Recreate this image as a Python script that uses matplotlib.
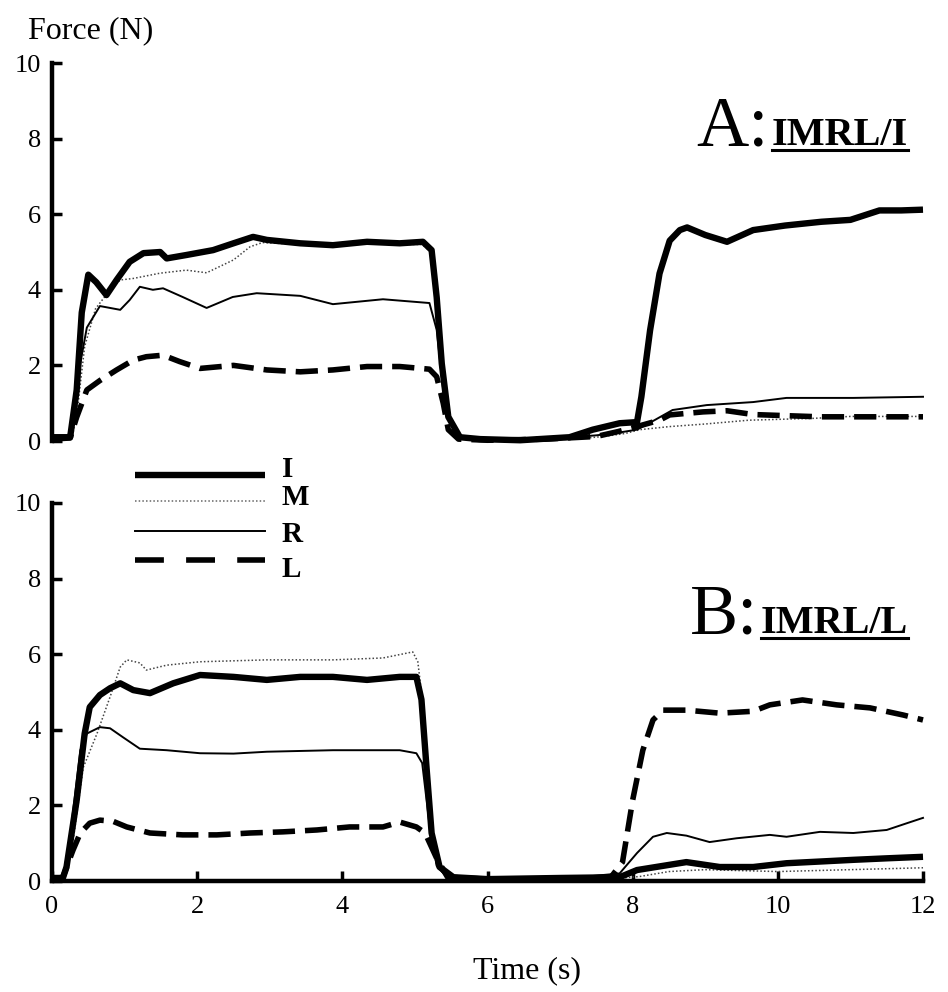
import matplotlib
matplotlib.use("Agg")
import matplotlib.pyplot as plt
from matplotlib.lines import Line2D

plt.rcParams['font.family'] = ['Liberation Serif', 'DejaVu Serif']

FIG_W, FIG_H = 948, 992

# finger names
fingers = ['I', 'M', 'R', 'L']

# ---- panel A: IMRL/I ----
a_i_t = [0, 0.25, 0.34, 0.41, 0.5, 0.61, 0.75, 0.89, 1.07, 1.26, 1.49, 1.58, 1.85, 2.22, 2.5, 2.77,
         2.96, 3.42, 3.87, 4.34, 4.79, 5.11, 5.23, 5.3, 5.37, 5.46, 5.62, 5.9, 6.45, 7.13, 7.45, 7.82,
         8.06, 8.12, 8.24, 8.37, 8.51, 8.65, 8.75, 9.0, 9.3, 9.66, 10.1, 10.6, 11.0, 11.4, 11.7, 12]
a_i_f = [0.1, 0.1, 1.35, 3.4, 4.4, 4.2, 3.86, 4.26, 4.74, 4.97, 5.0, 4.83, 4.92, 5.05, 5.23, 5.4,
         5.32, 5.23, 5.18, 5.27, 5.23, 5.27, 5.05, 3.8, 2.05, 0.64, 0.1, 0.05, 0.02, 0.1, 0.3, 0.47,
         0.5, 1.17, 2.93, 4.43, 5.3, 5.58, 5.65, 5.45, 5.27, 5.58, 5.7, 5.8, 5.85, 6.1, 6.1, 6.12]

a_m_t = [0, 0.28, 0.36, 0.45, 0.6, 0.8, 0.94, 1.12, 1.49, 1.85, 2.13, 2.5, 2.73, 2.9, 3.42, 3.87,
         4.34, 4.79, 5.1, 5.22, 5.3, 5.38, 5.47, 5.62, 5.9, 6.5, 7.2, 7.6, 7.9, 8.1, 8.5, 9.0, 9.6,
         10.5, 11.0, 12]
a_m_f = [0.05, 0.1, 1.0, 2.5, 3.5, 4.0, 4.26, 4.3, 4.44, 4.52, 4.45, 4.79, 5.14, 5.25, 5.2, 5.15,
         5.22, 5.2, 5.2, 5.0, 3.6, 1.9, 0.55, 0.08, 0.03, 0.02, 0.05, 0.12, 0.2, 0.3, 0.38, 0.45, 0.55,
         0.6, 0.65, 0.65]

a_r_t = [0, 0.22, 0.29, 0.39, 0.48, 0.66, 0.94, 1.07, 1.21, 1.39, 1.53, 1.8, 2.13, 2.49, 2.82, 3.42,
         3.87, 4.56, 5.2, 5.3, 5.39, 5.53, 5.7, 6.3, 7.0, 7.5, 7.8, 8.06, 8.3, 8.55, 9.02, 9.66, 10.12,
         11.04, 12]
a_r_f = [0.08, 0.1, 0.64, 2.06, 3.0, 3.57, 3.47, 3.73, 4.08, 4.0, 4.04, 3.81, 3.52, 3.81, 3.91, 3.84,
         3.62, 3.75, 3.65, 2.94, 1.35, 0.3, 0.06, 0.03, 0.08, 0.15, 0.22, 0.3, 0.55, 0.82, 0.95, 1.03, 1.14,
         1.14, 1.17]

a_l_t = [0, 0.25, 0.34, 0.48, 0.66, 0.89, 1.12, 1.3, 1.53, 1.76, 2.04, 2.5, 2.96, 3.42, 3.87, 4.34,
         4.79, 5.2, 5.3, 5.39, 5.46, 5.6, 6.0, 6.8, 7.5, 7.8, 8.0, 8.37, 8.51, 8.97, 9.3, 9.66, 10.58, 12]
a_l_f = [0.05, 0.08, 0.63, 1.35, 1.6, 1.88, 2.14, 2.23, 2.27, 2.1, 1.92, 2.0, 1.88, 1.83, 1.88, 1.97,
         1.97, 1.9, 1.7, 1.0, 0.3, 0.05, 0.02, 0.05, 0.12, 0.25, 0.35, 0.55, 0.69, 0.77, 0.8, 0.7, 0.64, 0.64]

# ---- panel B: IMRL/L ----
b_i_t = [0, 0.15, 0.2, 0.34, 0.45, 0.52, 0.66, 0.8, 0.94, 1.12, 1.35, 1.67, 2.04, 2.5, 2.96, 3.42,
         3.87, 4.34, 4.79, 5.02, 5.09, 5.16, 5.23, 5.34, 5.53, 6.0, 7.0, 7.82, 8.06, 8.74, 9.2, 9.66,
         10.12, 11.04, 11.5, 12]
b_i_f = [0.08, 0.08, 0.37, 2.14, 3.9, 4.6, 4.92, 5.1, 5.23, 5.05, 4.97, 5.23, 5.45, 5.4, 5.32, 5.4,
         5.4, 5.32, 5.4, 5.4, 4.8, 3.0, 1.27, 0.37, 0.1, 0.05, 0.08, 0.1, 0.29, 0.5, 0.37, 0.37,
         0.47, 0.56, 0.6, 0.64]

b_m_t = [0, 0.18, 0.3, 0.43, 0.62, 0.8, 0.94, 1.03, 1.21, 1.3, 1.58, 2.04, 2.96, 3.87, 4.56, 4.97,
         5.04, 5.12, 5.2, 5.3, 5.45, 6.0, 7.0, 7.8, 8.1, 8.5, 9.0, 10.0, 11.0, 12]
b_m_f = [0.05, 0.1, 1.2, 3.0, 3.9, 4.87, 5.66, 5.85, 5.77, 5.58, 5.71, 5.8, 5.85, 5.85, 5.9, 6.06,
         5.8, 4.5, 1.8, 0.4, 0.08, 0.03, 0.05, 0.07, 0.12, 0.25, 0.3, 0.25, 0.3, 0.35]

b_r_t = [0, 0.15, 0.25, 0.39, 0.48, 0.66, 0.8, 0.98, 1.21, 1.58, 2.04, 2.5, 2.96, 3.87, 4.79, 5.02,
         5.1, 5.2, 5.3, 5.45, 6.0, 7.0, 7.82, 8.06, 8.28, 8.47, 8.74, 9.06, 9.43, 9.89, 10.12, 10.58,
         11.04, 11.5, 11.78, 12]
b_r_f = [0.05, 0.05, 1.2, 3.46, 3.9, 4.07, 4.04, 3.8, 3.5, 3.46, 3.38, 3.37, 3.42, 3.46, 3.46, 3.38,
         3.12, 1.5, 0.4, 0.08, 0.05, 0.05, 0.2, 0.74, 1.17, 1.27, 1.2, 1.03, 1.13, 1.22, 1.17, 1.3,
         1.27, 1.35, 1.53, 1.67]

b_l_t = [0, 0.15, 0.29, 0.39, 0.52, 0.66, 0.84, 1.03, 1.35, 1.8, 2.27, 2.73, 3.18, 3.65, 4.1, 4.56,
         4.79, 5.02, 5.14, 5.3, 5.45, 6.0, 7.0, 7.7, 7.86, 8.0, 8.14, 8.28, 8.42, 8.74, 9.2, 9.66,
         9.89, 10.34, 10.81, 11.27, 11.73, 12]
b_l_f = [0.05, 0.1, 0.82, 1.27, 1.53, 1.61, 1.58, 1.43, 1.27, 1.22, 1.22, 1.27, 1.3, 1.35, 1.43, 1.43,
         1.56, 1.43, 1.27, 0.6, 0.1, 0.05, 0.05, 0.1, 0.5, 2.14, 3.46, 4.26, 4.52, 4.52, 4.44, 4.49,
         4.66, 4.79, 4.66, 4.58, 4.39, 4.26]

x_ticks = [0, 2, 4, 6, 8, 10, 12]
y_ticks = [0, 2, 4, 6, 8, 10]

styles = {
    'I': dict(color='black', lw=4.6, ls='-', solid_capstyle='butt'),
    'M': dict(color='#444444', lw=1.1, ls=(0, (1, 1.4))),
    'R': dict(color='black', lw=1.4, ls='-'),
    'L': dict(color='black', lw=4.0, ls=(0, (4, 1.8)), dash_capstyle='butt'),
}


def px(x, y):
    # pixel position (from top-left) -> figure fraction
    return x / FIG_W, 1 - y / FIG_H


fig = plt.figure(figsize=(FIG_W / 100, FIG_H / 100), dpi=100)

left, width = 52 / FIG_W, (923 - 52) / FIG_W
ax_a = fig.add_axes([left, 1 - 441 / FIG_H, width, 378 / FIG_H])
ax_b = fig.add_axes([left, 1 - 881 / FIG_H, width, 378 / FIG_H])

panel_data = [
    (ax_a, [(a_i_t, a_i_f), (a_m_t, a_m_f), (a_r_t, a_r_f), (a_l_t, a_l_f)]),
    (ax_b, [(b_i_t, b_i_f), (b_m_t, b_m_f), (b_r_t, b_r_f), (b_l_t, b_l_f)]),
]

# draw thin lines first so the thick ones sit on top
order = ['M', 'R', 'L', 'I']
for ax, series in panel_data:
    for name in order:
        t, f = series[fingers.index(name)]
        ax.plot(t, f, clip_on=False, zorder=3 if name == 'I' else 2, **styles[name])
    ax.set_xlim(0, 12)
    ax.set_ylim(0, 10)
    ax.set_yticks(y_ticks)
    ax.set_xticks(x_ticks)
    for s in ['top', 'right']:
        ax.spines[s].set_visible(False)
    ax.spines['left'].set_linewidth(3.2)
    ax.spines['bottom'].set_linewidth(3.2)
    ax.tick_params(axis='both', direction='in', length=7, width=2.5, labelsize=19)
    ax.tick_params(axis='y', pad=8)
    ax.tick_params(axis='x', pad=11)
    ax.patch.set_visible(False)

ax_a.spines['bottom'].set_visible(False)
ax_a.tick_params(axis='x', bottom=False, labelbottom=False)

# axis titles
fig.text(*px(28, 38), 'Force (N)', fontsize=23, va='baseline', ha='left')
fig.text(*px(527, 978), 'Time (s)', fontsize=23, va='baseline', ha='center')

# panel labels: big letter + underlined condition, right-aligned
panel_labels = [('A:', 'IMRL/I', 145), ('B:', 'IMRL/L', 633)]
subs = []
for big, small, base in panel_labels:
    st = fig.text(*px(908, base), small, fontsize=29, fontweight='bold', va='baseline', ha='right')
    bt = fig.text(*px(770, base), big, fontsize=52, va='baseline', ha='right')
    subs.append((st, bt, base))

# legend drawn by hand to match the stacked layout
leg_rows = [('I', 475, 477), ('M', 501, 505), ('R', 531, 542), ('L', 560, 577)]
for name, ly, ty in leg_rows:
    st = dict(styles[name])
    if name == 'L':
        st['ls'] = (0, (5.2, 4))
    if name == 'M':
        st['color'] = '#666666'
    x0, y0 = px(135, ly)
    x1, _ = px(265, ly)
    fig.add_artist(Line2D([x0, x1], [y0, y0], transform=fig.transFigure, **st))
    fig.text(*px(282, ty), name, fontsize=21, fontweight='bold', va='baseline', ha='left')

fig.canvas.draw()
inv = fig.transFigure.inverted()
for st, bt, base in subs:
    bb = st.get_window_extent()
    ux0 = inv.transform((bb.x0, 0))[0]
    ux1 = inv.transform((bb.x1, 0))[0]
    bt.set_x(inv.transform((bb.x0 - 3, 0))[0])
    uy = 1 - (base + 5) / FIG_H
    fig.add_artist(Line2D([ux0, ux1], [uy, uy], transform=fig.transFigure, color='black', lw=2.2))

fig.savefig('out.png', dpi=100)
